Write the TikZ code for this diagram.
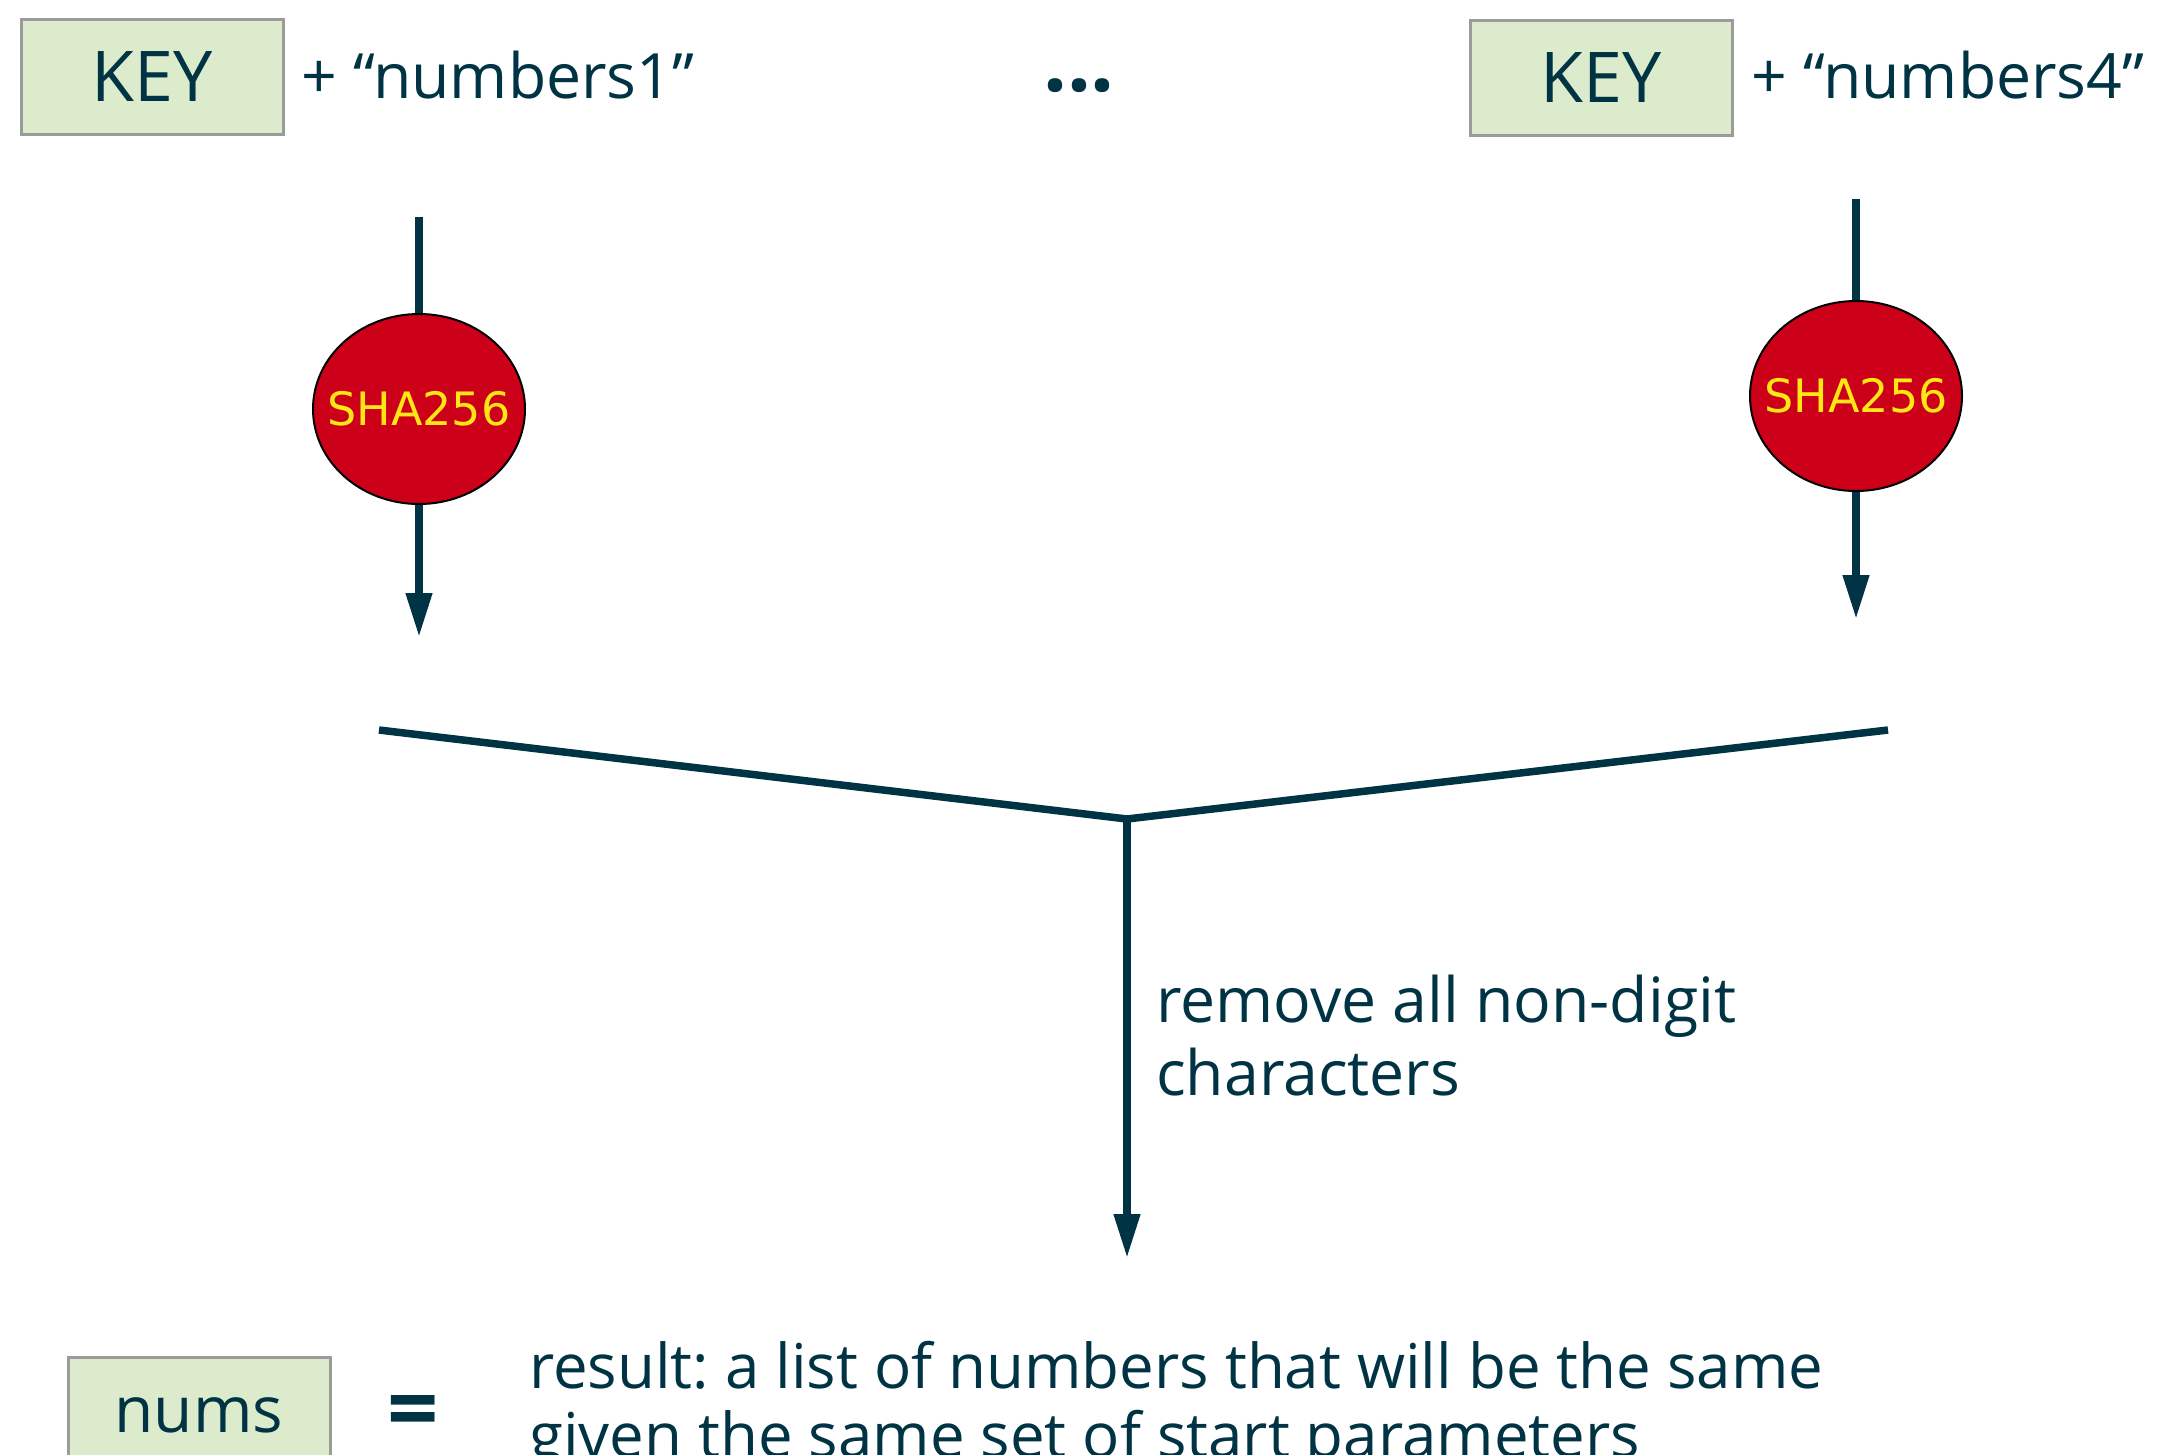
\documentclass[tikz,border=0pt]{standalone}
\usepackage{fontspec}
\setmainfont{Open Sans}
\newfontfamily\shafont{DejaVu Sans}
\usetikzlibrary{arrows.meta,shapes.geometric}
\definecolor{ink}{RGB}{0,51,68}
\definecolor{boxfill}{RGB}{220,235,203}
\definecolor{boxline}{RGB}{155,155,155}
\definecolor{shared}{RGB}{204,0,25}
\definecolor{shayel}{RGB}{255,230,20}
\frenchspacing
\tikzset{
  keybox/.style={draw=boxline, line width=3pt, fill=boxfill, minimum width=262pt, minimum height=115pt, inner sep=0pt, text=ink, font=\fontsize{70}{78}\selectfont},
  plain/.style={text=ink, inner sep=0pt, font=\fontsize{62.5}{70}\selectfont},
  shanode/.style={ellipse, draw=black, line width=2pt, fill=shared, minimum width=212pt, minimum height=190pt, inner xsep=-40pt, inner ysep=0pt, text=shayel, font=\shafont\fontsize{46}{52}\selectfont},
  conn/.style={draw=ink, line width=7.5pt},
  arr/.style={conn, -{Triangle[length=44pt,width=25pt]}}
}
\begin{document}
\begin{tikzpicture}[x=1pt,y=-1pt]
\path[use as bounding box, clip] (0,0) rectangle (2165,1454);
\fill[white] (0,0) rectangle (2165,1454);
% top row
\node[keybox] (key1) at (152,77) {KEY};
\node[plain, anchor=west] (plus1) at (301,75) {+ “numbers1”};
\node[plain, anchor=base, font=\bfseries\fontsize{84}{90}\selectfont] (dots) at (1079,91) {...};
\node[keybox] (key2) at (1601,78) {KEY};
\node[plain, anchor=west] (plus4) at (1751,75) {+ “numbers4”};
% hashes
\coordinate (t1) at (419,217);
\node[shanode] (sha1) at (419,409) {SHA256};
\coordinate (e1) at (419,637);
\coordinate (t2) at (1856,199);
\node[shanode] (sha2) at (1856,396) {SHA256};
\coordinate (e2) at (1856,619);
\draw[conn] (t1) -- (sha1.north);
\draw[arr] (sha1.south) -- (e1);
\draw[conn] (t2) -- (sha2.north);
\draw[arr] (sha2.south) -- (e2);
% funnel
\coordinate (fl) at (379,730);
\coordinate (fv) at (1127,819);
\coordinate (fr) at (1888,730);
\coordinate (fe) at (1127,1258);
\draw[conn, line join=miter] (fl) -- (fv) -- (fr);
\draw[arr] (fv) -- (fe);
\node[plain, anchor=north west, align=left, font=\fontsize{62.5}{73}\selectfont] (lab) at (1156,975) {remove all non-digit\\characters};
% bottom
\node[keybox, font=\fontsize{64}{72}\selectfont] (nums) at (199,1415) {nums};
\node[plain, anchor=base, text depth=0pt, font=\bfseries\fontsize{90}{90}\selectfont] (eq) at (413,1440) {=};
\node[plain, anchor=north west, align=left, font=\fontsize{61.8}{69}\selectfont] (res) at (529,1341) {result: a list of numbers that will be the same\\given the same set of start parameters};
\end{tikzpicture}
\end{document}
